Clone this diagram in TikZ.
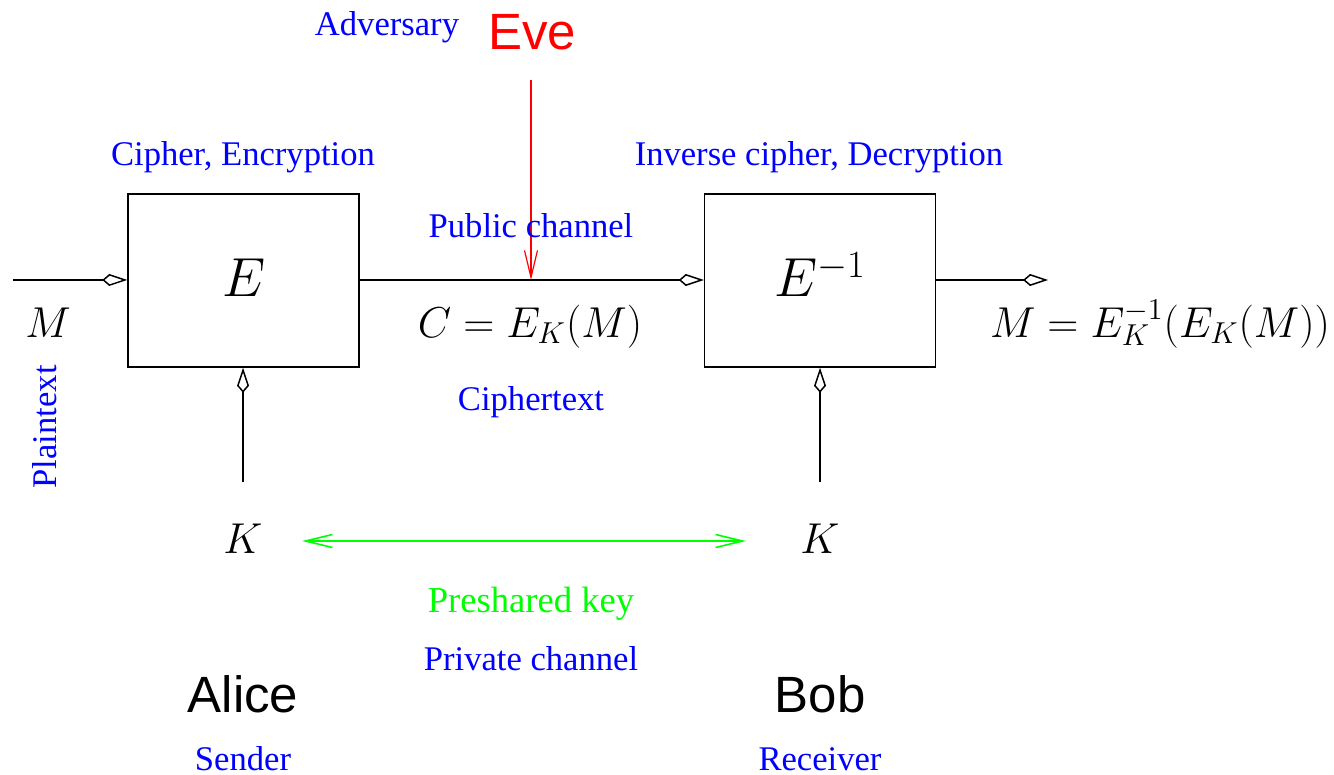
\RequirePackage{fix-cm}
\documentclass[tikz,border=0pt]{standalone}
\usepackage{fontspec}
\setmainfont{Liberation Serif}
\newfontfamily\helv{Liberation Sans}
\usetikzlibrary{arrows.meta}
\tikzset{
  barb/.tip={Straight Barb[length=13.5pt,width=6.5pt]},
  kitetip/.tip={Kite[open,length=12.5pt,width=6pt,inset=3.5pt]},
}
\begin{document}
\begin{tikzpicture}[x=0.5pt,y=-0.5pt,
  line width=0.75pt,
  lbl/.style={inner sep=0pt,anchor=base},
  note/.style={lbl,text=blue,font=\fontsize{17.3}{20}\selectfont},
  who/.style={lbl,font=\helv\fontsize{25.5}{28}\selectfont},
  mlbl/.style={lbl,font=\fontsize{21.6}{24}\selectfont},
  blk/.style={draw,minimum width=115.5pt,minimum height=86.5pt,inner sep=0pt},
  feed/.style={-kitetip},
]
\useasboundingbox (0,0) rectangle (1334,775);

% cipher blocks
\node[blk] (enc) at (243.5,280.5) {};
\node[blk] (dec) at (820,280.5) {};
\node[lbl,font=\fontsize{27.5}{30}\selectfont] (encl) at (244,297) {$E$};
\node[lbl,font=\fontsize{27.5}{30}\selectfont] (decl) at (820,297) {$E^{-1}$};

% data path
\coordinate (min) at (13,280);
\coordinate (mout) at (1048,280);
\draw[feed] (min) -- (enc.west |- min);
\draw[feed] (enc.east |- min) -- (dec.west |- min);
\draw[feed] (dec.east |- mout) -- (mout);

% key inputs
\coordinate (ka) at (243,482);
\coordinate (kb) at (820,482);
\draw[feed] (ka) -- (ka |- enc.south);
\draw[feed] (kb) -- (kb |- dec.south);

% eavesdropper
\coordinate (evetop) at (531,80);
\coordinate (tap) at (531,280);
\draw[red,line width=0.6pt,-barb] (evetop) -- (tap);

% labels
\node[note] (adv) at (387,36) {Adversary};
\node[who,text=red] (eve) at (532,50) {Eve};
\node[note] (cenc) at (243,166) {Cipher, Encryption};
\node[note] (cdec) at (819,166) {Inverse cipher, Decryption};
\node[note] (pub) at (531,238) {Public channel};
\node[mlbl] (mlab) at (48,337) {$M$};
\node[mlbl] (clab) at (530,337) {$C = E_K(M)$};
\node[mlbl] (rlab) at (1160,337) {$M = E_K^{-1}(E_K(M))$};
\node[note] (ctext) at (531,410) {Ciphertext};
\node[note,rotate=90,anchor=base west] (ptext) at (56,489) {Plaintext};
\node[mlbl] (kal) at (243,553) {$K$};
\node[mlbl] (kbl) at (820,553) {$K$};
\node[note,text=green,font=\fontsize{18.3}{20}\selectfont] (psk) at (531,612) {Preshared key};
\node[note] (priv) at (531,670) {Private channel};
\node[who] (alice) at (243,712) {Alice};
\node[who] (bob) at (820,712) {Bob};
\node[note] (snd) at (243,770) {Sender};
\node[note] (rcv) at (820,770) {Receiver};

% shared key
\coordinate (kl) at (302,541);
\coordinate (kr) at (746,541);
\draw[green,line width=0.8pt,barb-barb] (kl) -- (kr);
\end{tikzpicture}
\end{document}
